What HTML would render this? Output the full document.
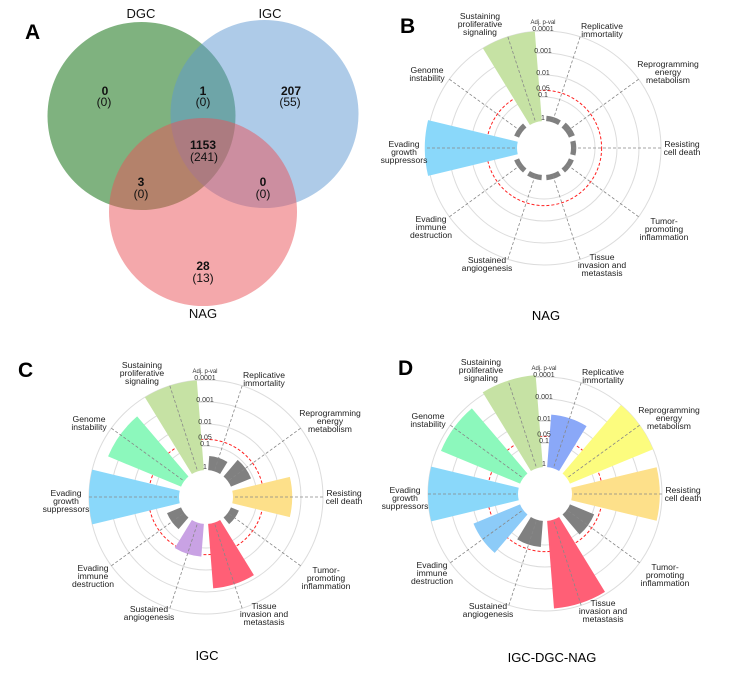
<!DOCTYPE html>
<html><head><meta charset="utf-8"><style>
body{margin:0;background:#fff}
svg{display:block;font-family:"Liberation Sans",Arial,sans-serif}
</style></head><body>
<svg id="fig" width="730" height="675" viewBox="0 0 730 675">
<g>
<text x="25" y="39" font-size="21" font-weight="bold">A</text>
<circle cx="141.5" cy="116" r="94" fill="rgb(0,101,0)" fill-opacity="0.5"/>
<circle cx="264.5" cy="114" r="94" fill="rgb(93,151,209)" fill-opacity="0.5"/>
<circle cx="203" cy="212" r="94" fill="rgb(233,81,87)" fill-opacity="0.5"/>
<g font-size="12" text-anchor="middle" fill="#111">
<text x="141" y="18" font-size="13">DGC</text>
<text x="270" y="18" font-size="13">IGC</text>
<text x="203" y="318" font-size="13">NAG</text>
<text x="105" y="95" font-weight="bold">0</text><text x="104" y="106">(0)</text>
<text x="203" y="95" font-weight="bold">1</text><text x="203" y="106">(0)</text>
<text x="291" y="95" font-weight="bold">207</text><text x="290" y="106">(55)</text>
<text x="203" y="149" font-weight="bold">1153</text><text x="204" y="161">(241)</text>
<text x="141" y="186" font-weight="bold">3</text><text x="141" y="198">(0)</text>
<text x="263" y="186" font-weight="bold">0</text><text x="263" y="198">(0)</text>
<text x="203" y="270" font-weight="bold">28</text><text x="203" y="282">(13)</text>
</g>
</g>
<text x="400" y="33" font-size="21" font-weight="bold">B</text>
<text x="18" y="377" font-size="21" font-weight="bold">C</text>
<text x="398" y="375" font-size="21" font-weight="bold">D</text>
<text x="546" y="320" font-size="13" text-anchor="middle">NAG</text>
<text x="207" y="660" font-size="13" text-anchor="middle">IGC</text>
<text x="552" y="662" font-size="13" text-anchor="middle">IGC-DGC-NAG</text>
</svg>
<script>
const categories = ["Replicative immortality","Reprogramming energy metabolism","Resisting cell death","Tumor-promoting inflammation","Tissue invasion and metastasis","Sustained angiogenesis","Evading immune destruction","Evading growth suppressors","Genome instability","Sustaining proliferative signaling"];
const labelLines = [["Replicative","immortality"],["Reprogramming","energy","metabolism"],["Resisting","cell death"],["Tumor-","promoting","inflammation"],["Tissue","invasion and","metastasis"],["Sustained","angiogenesis"],["Evading","immune","destruction"],["Evading","growth","suppressors"],["Genome","instability"],["Sustaining","proliferative","signaling"]];
// -log10(adj p)
const nagValues = [0.15,0.2,0.15,0.15,0.15,0.15,0.15,4.1,0.15,4.0];
const igcValues = [0.55,0.9,2.6,0.3,2.85,1.4,0.6,4.0,3.5,4.0];
const allValues = [2.3,4.0,3.9,1.1,3.9,1.1,2.2,4.0,3.8,4.1];
const igcColors = ["#8aa8f8","#fcfc7e","#fde08a","#808080","#ff5f76","#c9a2e4","#808080","#8ad8fa","#8cf8bc","#c6e2a4"];
const allColors = ["#8aa8f8","#fcfc7e","#fde08a","#808080","#ff5f76","#808080","#8ccbf8","#8ad8fa","#8cf8bc","#c6e2a4"];
const tickLabels = ["1","0.1","0.05","0.01","0.001","0.0001"];
const tickValues = [0,1,1.301,2,3,4];
const sigThreshold = 1.301;

const NS="http://www.w3.org/2000/svg";
const svg=document.getElementById('fig');
const labelOff=[[58,-118],[124,-76],[138,0],[120,81],[58,117],[-57,116],[-113,79],[-140,4],[-117,-74],[-64,-124]];
function rScale(v){return 29+22*v;}
function angleOf(i){return 18+36*i;}
function pt(cx,cy,r,a){const t=a*Math.PI/180;return [cx+r*Math.sin(t),cy-r*Math.cos(t)];}
function mk(tag,attrs,parent){const e=document.createElementNS(NS,tag);for(const k in attrs)e.setAttribute(k,attrs[k]);parent.appendChild(e);return e;}
function drawRadial(panel,cx,cy,values,colors){
  const g=mk('g',{},svg);
  
  
  [1,2,3,4].forEach(v=>{
    const c=mk('circle',{cx:cx,cy:cy,r:rScale(v),fill:'none',stroke:'#dcdcdc','stroke-width':1},g);
    
    
  });
  const rc=mk('circle',{cx:cx,cy:cy,r:rScale(sigThreshold),fill:'none',stroke:'#ff2020','stroke-width':1,'stroke-dasharray':'3,2'},g);
  
  
  const r0=27,hw=13.5;
  values.forEach((v,i)=>{
    const a=angleOf(i),r1=Math.max(rScale(v),r0+3);
    const p1=pt(cx,cy,r0,a-hw),p2=pt(cx,cy,r1,a-hw),p3=pt(cx,cy,r1,a+hw),p4=pt(cx,cy,r0,a+hw);
    const col=v>=sigThreshold?(colors?colors[i]:null):'#808080';
    const fill=col||(i===7?'#8ad8fa':'#c6e2a4');
    const d=`M${p1[0]},${p1[1]}L${p2[0]},${p2[1]}A${r1},${r1} 0 0 1 ${p3[0]},${p3[1]}L${p4[0]},${p4[1]}A${r0},${r0} 0 0 0 ${p1[0]},${p1[1]}Z`;
    const b=mk('path',{d:d,fill:fill},g);
    
    
  });
  values.forEach((v,i)=>{
    const a=angleOf(i),s=pt(cx,cy,29,a),e=pt(cx,cy,118,a);
    const l=mk('line',{x1:s[0],y1:s[1],x2:e[0],y2:e[1],stroke:'#888','stroke-width':0.8,'stroke-dasharray':'3,2'},g);
    
    
    const t=mk('text',{x:cx+labelOff[i][0],'text-anchor':'middle','font-size':8.6,fill:'#222'},g);
    
    
    const lines=labelLines[i],n=lines.length,y0=cy+labelOff[i][1]-(n-1)*4+3;
    lines.forEach((s2,k)=>{const ts=mk('tspan',{x:cx+labelOff[i][0],y:y0+k*8},t);ts.textContent=s2;});
  });
  tickLabels.forEach((lab,k)=>{
    const t=mk('text',{x:cx-1,y:cy-rScale(tickValues[k])+(k===0?1:0),'text-anchor':'middle','font-size':7,fill:'#333'},g);
    
    
    t.textContent=lab;
  });
  const h=mk('text',{x:cx-1,y:cy-124,'text-anchor':'middle','font-size':6,fill:'#333'},g);
  
  
  h.textContent='Adj. p-val';
}
drawRadial('b',544,148,nagValues,null);
drawRadial('c',206,497,igcValues,igcColors);
drawRadial('d',545,494,allValues,allColors);
</script>
</body></html>
